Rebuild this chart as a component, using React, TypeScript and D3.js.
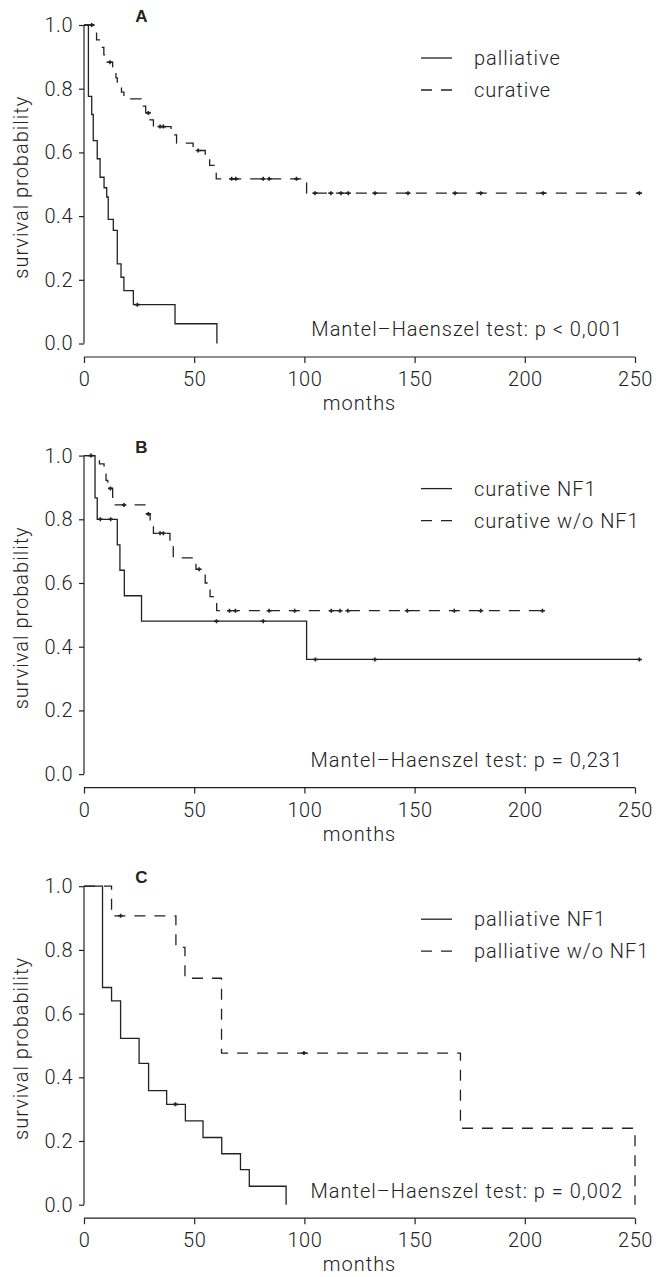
import React, { useEffect, useRef } from "react";
import * as d3 from "d3";

// ---- panel A: palliative vs curative
const palTimes = [0, 2, 3.5, 4.2, 6, 7.3, 9.1, 10.3, 11, 13.3, 15.1, 16.8, 18.1, 22.4, 41.3, 60.3];
const palSurv = [1, 0.776, 0.719, 0.637, 0.58, 0.522, 0.489, 0.46, 0.39, 0.355, 0.25, 0.208, 0.166, 0.122, 0.062, 0];
const palCensor = [24.2];
const palEnd = 60.3;

const curTimes = [0, 4.5, 5.7, 7.5, 9, 10.5, 13, 14.5, 15.1, 17, 18.1, 25.9, 28, 30, 31.5, 39.5, 42, 49.5, 55, 57, 59, 60, 101];
const curSurv = [1, 0.977, 0.953, 0.93, 0.906, 0.883, 0.858, 0.834, 0.81, 0.789, 0.768, 0.745, 0.724, 0.702, 0.681, 0.655, 0.629, 0.606, 0.582, 0.559, 0.538, 0.517, 0.472];
const curCensor = [3.5, 11.8, 29.2, 34.5, 36, 51.8, 67, 68.9, 81.3, 84, 96.4, 104.8, 112, 116.6, 119.9, 132, 147, 168.3, 180, 208.3, 252];
const curEnd = 252;

// ---- panel B: curative NF1 vs curative w/o NF1
const curNfTimes = [0, 5, 6, 15.1, 16.3, 18.3, 26.1, 101];
const curNfSurv = [1, 0.867, 0.8, 0.72, 0.64, 0.56, 0.48, 0.36];
const curNfCensor = [3.2, 7.4, 12.1, 60.1, 81.3, 105, 132, 252];
const curNfEnd = 252;

const curWoTimes = [0, 7, 9.1, 10, 10.8, 13, 28, 30, 31.5, 39, 40.5, 50.8, 55, 57.2, 60.2];
const curWoSurv = [1, 0.974, 0.948, 0.922, 0.897, 0.845, 0.817, 0.785, 0.756, 0.714, 0.679, 0.643, 0.6, 0.557, 0.513];
const curWoCensor = [12, 18.1, 29.2, 34.5, 36, 52.2, 66, 68.7, 84, 95.6, 112.2, 116.2, 119.7, 146.7, 168, 180, 208];
const curWoEnd = 208;

// ---- panel C: palliative NF1 vs palliative w/o NF1
const palNfTimes = [0, 8.4, 12.5, 16.6, 25, 29.3, 37.5, 46, 54, 62.5, 71, 75, 91.7];
const palNfSurv = [1, 0.682, 0.64, 0.522, 0.444, 0.358, 0.315, 0.263, 0.211, 0.16, 0.11, 0.058, 0];
const palNfCensor = [41.5];
const palNfEnd = 91.7;

const palWoTimes = [0, 12.5, 41.7, 45.8, 62.4, 170.8, 250];
const palWoSurv = [1, 0.907, 0.808, 0.711, 0.476, 0.24, 0];
const palWoCensor = [16.6, 99.8];
const palWoEnd = 250;

const panelLetters = ["A", "B", "C"];
const legendLabels = [
  ["palliative", "curative"],
  ["curative NF1", "curative w/o NF1"],
  ["palliative NF1", "palliative w/o NF1"]
];
const testLabels = [
  "Mantel–Haenszel test: p < 0,001",
  "Mantel–Haenszel test: p = 0,231",
  "Mantel–Haenszel test: p = 0,002"
];
const xTicks = [0, 50, 100, 150, 200, 250];
const yTicks = [0, 0.2, 0.4, 0.6, 0.8, 1.0];

const panels = [
  [
    { times: palTimes, surv: palSurv, censor: palCensor, end: palEnd },
    { times: curTimes, surv: curSurv, censor: curCensor, end: curEnd }
  ],
  [
    { times: curNfTimes, surv: curNfSurv, censor: curNfCensor, end: curNfEnd },
    { times: curWoTimes, surv: curWoSurv, censor: curWoCensor, end: curWoEnd }
  ],
  [
    { times: palNfTimes, surv: palNfSurv, censor: palNfCensor, end: palNfEnd },
    { times: palWoTimes, surv: palWoSurv, censor: palWoCensor, end: palWoEnd }
  ]
];

const FONT = "Roboto, 'Noto Sans', sans-serif";
const INK = "#222";

const survAt = (times: number[], surv: number[], t: number) => {
  let s = surv[0];
  times.forEach((tt, i) => {
    if (tt <= t) s = surv[i];
  });
  return s;
};

// light text style shared by labels
const styleText = sel =>
  sel
    .attr("font-family", FONT)
    .attr("font-weight", 300)
    .attr("font-size", 20)
    .attr("letter-spacing", 1)
    .attr("fill", INK);

const App = () => {
  const svgRef = useRef<SVGSVGElement>(null);

  useEffect(() => {
    const svg = d3.select(svgRef.current);
    svg.selectAll("*").remove();

    const x = d3.scaleLinear().domain([0, 250]).range([84, 635]);
    const panelH = 318.5;

    panels.forEach((curves, pi) => {
      const top = 25 + pi * 430.6;
      const y = d3.scaleLinear().domain([0, 1]).range([top + panelH, top]);
      const g = svg.append("g");

      // y axis
      const yAxis = g
        .append("g")
        .attr("transform", `translate(${x(0)},0)`)
        .call(
          d3
            .axisLeft(y)
            .tickValues(yTicks)
            .tickFormat(d3.format(".1f"))
            .tickSize(5)
            .tickPadding(6)
        );

      // x axis, offset below the plot like base R
      const xAxis = g
        .append("g")
        .attr("transform", `translate(0,${top + panelH + 13.5})`)
        .call(d3.axisBottom(x).tickValues(xTicks).tickSize(6).tickPadding(9));

      [yAxis, xAxis].forEach(a => {
        a.select(".domain").attr("stroke", INK).attr("stroke-width", 1.2);
        a.selectAll(".tick line").attr("stroke", INK).attr("stroke-width", 1.2);
        styleText(a.selectAll(".tick text")).attr("letter-spacing", 0.5);
      });
      // base R draws the axis line between the outer ticks only
      yAxis.select(".domain").attr("d", `M0,${y(1)}V${y(0)}`);
      xAxis.select(".domain").attr("d", `M${x(0)},0H${x(250)}`);

      styleText(
        g
          .append("text")
          .attr("x", x(125))
          .attr("y", top + panelH + 13.5 + 53)
          .attr("text-anchor", "middle")
      ).text("months");

      styleText(
        g
          .append("text")
          .attr("transform", `translate(28,${top + panelH / 2 + 3}) rotate(-90)`)
          .attr("text-anchor", "middle")
      ).text("survival probability");

      g.append("text")
        .attr("x", 141.5)
        .attr("y", top - 3)
        .attr("text-anchor", "middle")
        .attr("font-family", "'Liberation Sans', Arial, sans-serif")
        .attr("font-weight", 700)
        .attr("font-size", 17)
        .attr("fill", INK)
        .text(panelLetters[pi]);

      // curves
      const line = d3
        .line<[number, number]>()
        .x(d => x(d[0]))
        .y(d => y(d[1]))
        .curve(d3.curveStepAfter);

      curves.forEach((c, ci) => {
        const pts: [number, number][] = c.times.map((t, i) => [t, c.surv[i]]);
        const last = c.times[c.times.length - 1];
        if (c.end > last) pts.push([c.end, c.surv[c.surv.length - 1]]);

        g.append("path")
          .attr("d", line(pts))
          .attr("fill", "none")
          .attr("stroke", INK)
          .attr("stroke-width", 1.3)
          .attr("stroke-dasharray", ci === 1 ? "11,9" : null);

        g.selectAll(null)
          .data(c.censor)
          .join("path")
          .attr("transform", t => `translate(${x(t)},${y(survAt(c.times, c.surv, t))})`)
          .attr("d", "M-2.5,0H2.5M0,-2V2")
          .attr("stroke", INK)
          .attr("stroke-width", 1.6);
      });

      // legend
      legendLabels[pi].forEach((lab, li) => {
        const ly = top + 40 + li * 32;
        g.append("line")
          .attr("x1", 421)
          .attr("x2", 452)
          .attr("y1", ly - 7)
          .attr("y2", ly - 7)
          .attr("stroke", INK)
          .attr("stroke-width", 1.3)
          .attr("stroke-dasharray", li === 1 ? "11,9" : null);
        styleText(g.append("text").attr("x", 474).attr("y", ly)).text(lab);
      });

      styleText(
        g
          .append("text")
          .attr("x", 623)
          .attr("y", y(0.044) + 7)
          .attr("text-anchor", "end")
      ).text(testLabels[pi]);
    });
  }, []);

  return (
    <svg
      ref={svgRef}
      width={667}
      height={1277}
      style={{ position: "absolute", left: 0, top: 0, background: "#fff" }}
    />
  );
};

export default App;
